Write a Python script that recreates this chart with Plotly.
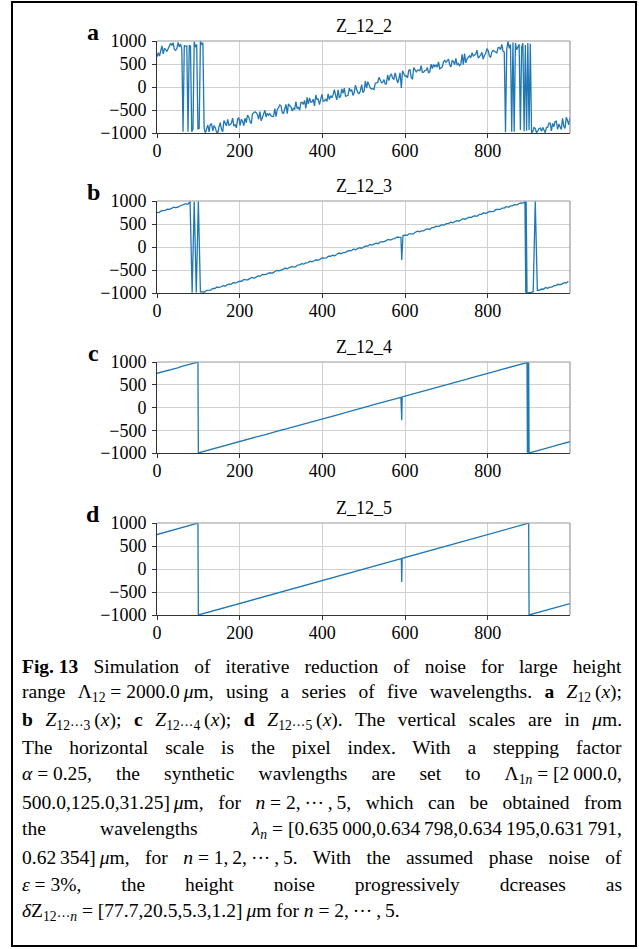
import plotly.graph_objects as go

W, H = 639, 949

# ---- data: wrapped height profiles (µm) versus pixel index ----
pix_a = list(range(0, 1000, 3))
z_a = [659, 745, 674, 786, 897, 722, 834, 816, 771, 830,
       916, 950, 905, 964, 816, 798, 831, 968, 872, 932,
       835, -975, 902, 884, 891, -972, 906, 888, -975, -916,
       988, 866, 925, -912, -904, 999, 929, 960, -900, -996,
       -911, -826, -974, -810, -803, -952, -840, -884, -981, -999,
       -862, -776, -925, -970, -728, -772, -843, -706, -828, -820,
       -787, -676, -850, -816, -887, -698, -664, -838, -701, -746,
       -842, -678, -775, -612, -656, -752, -797, -582, -548, -540,
       -559, -604, -700, -536, -737, -652, -618, -506, -655, -570,
       -614, -580, -625, -644, -636, -472, -647, -484, -450, -390,
       -409, -558, -576, -490, -379, -580, -364, -408, -427, -524,
       -464, -482, -319, -468, -434, -504, -341, -334, -378, -292,
       -467, -226, -374, -236, -333, -326, -266, -414, -173, -270,
       -262, -384, -247, -162, -310, -302, -269, -314, -150, -272,
       -187, -232, -172, -60, -183, -280, -64, -238, -205, -42,
       -138, -26, -201, -194, -186, -22, -93, -60, -182, -122,
       41, -56, -126, -144, -85, 52, -122, -88, 127, -22,
       116, 46, -25, -44, -36, -54, 83, 90, 98, 210,
       139, 94, 102, 162, 65, 72, 262, 140, 251, 284,
       188, 170, 307, 158, 88, 174, 311, -20, 352, 282,
       237, 244, 200, 364, 371, 196, 178, 420, 375, 330,
       364, 372, 353, 464, 316, 324, 357, 364, 424, 302,
       335, 498, 402, 488, 443, 476, 432, 544, 395, 428,
       436, 548, 581, 536, 570, 604, 481, 436, 574, 556,
       485, 622, 474, 508, 463, 496, 712, 486, 727, 526,
       612, 646, 679, 634, 746, 676, 709, 716, 802, 628,
       661, 694, 754, 606, 691, 724, 836, 792, 669, 650,
       762, 796, 777, 758, 740, 852, 859, 814, 926, 778,
       759, -985, 826, 990, 841, 926, -970, 968, -975, 956,
       808, 868, 927, -936, 864, 950, -960, 912, -950, 954,
       -935, 942, -998, -964, -879, -898, -994, -960, -901, -894,
       -964, -878, -949, -994, -882, -874, -789, -782, -956, -792,
       -863, -752, -744, -918, -807, -878, -922, -680, -855, -900,
       -658, -728, -825, -662]

pix_b = sorted(list(range(0, 1000, 5)) + [592, 892, 893])
z_b = [755, 748, 783, 790, 796, 824, 817, 838, 865, 858, 864, 892, 909, 910, 944, 928,
       990, -993, 985, -990, 995, -974,
       -975, -978, -942, -934, -937, -902, -902, -870, -883, -864, -839, -852, -819, -810, -805, -772, -786, -762,
       -741, -744, -705, -716, -714, -682, -663, -680, -648, -630, -634, -598, -602, -596, -564, -558, -565, -532, -511, -518,
       -510, -486, -457, -474, -446, -428, -431, -432, -392, -388, -361, -372, -345, -340, -309, -324, -299, -278, -291, -256,
       -239, -242, -235, -198, -201, -180, -190, -158, -131, -146, -123, -124, -90, -82, -80, -48, -59, -38, -17, -26,
       4, 24, 19, 56, 40, 60, 84, 72, 112, 114, 117, 144, 165, 152, 177, 182, 216, 212, 211, -280, 248,
       255, 254, 287, 286, 285, 320, 344, 332, 351, 352, 385, 392, 382, 422, 421, 452, 442, 464, 486, 476,
       506, 510, 541, 528, 550, 572, 561, 592, 615, 604, 621, 650, 639, 670, 677, 672, 710, 712, 743, 728,
       751, 774, 769, 776, 815, 816, 816, 846, 848, 882, 864, 892, 895, 924, 910, 940, 959, 954,
       978, -992, 990, -990,
       -995, -985, -972, 995,
       -942, -940, -914, -918, -882, -896, -871, -874, -840, -838, -810, -820, -802, -776, -786, -744]

pix_c = [0, 10, 20, 30, 40, 50, 60, 70, 80, 90, 99, 100, 110, 120, 130, 140, 150, 160, 170, 180, 190,
         200, 210, 220, 230, 240, 250, 260, 270, 280, 290, 300, 310, 320, 330, 340, 350, 360, 370, 380, 390,
         400, 410, 420, 430, 440, 450, 460, 470, 480, 490, 500, 510, 520, 530, 540, 550, 560, 570, 580, 590,
         592, 593, 600, 610, 620, 630, 640, 650, 660, 670, 680, 690, 700, 710, 720, 730, 740, 750, 760, 770,
         780, 790, 800, 810, 820, 830, 840, 850, 860, 870, 880, 890, 895, 896, 897, 898, 899, 900,
         910, 920, 930, 940, 950, 960, 970, 980, 990, 999]
z_c = [752, 774, 801, 823, 852, 873, 902, 924, 951, 973, 998, -999, -973, -952, -924, -901, -873, -852, -826, -798, -777,
       -748, -727, -698, -677, -651, -622, -602, -573, -549, -527, -498, -476, -452, -423, -401, -377, -348, -326, -298, -276,
       -252, -223, -201, -176, -148, -127, -99, -77, -48, -26, 2, 23, 51, 74, 98, 127, 148, 176, 199, 224,
       -282, 231, 252, 276, 298, 327, 349, 373, 402, 423, 451, 474, 498, 527, 549, 573, 601, 623, 652, 674,
       698, 727, 748, 776, 799, 826, 848, 877, 898, 926, 949, 973, 990, -996, 994, -993, 997, -998,
       -973, -951, -924, -902, -873, -851, -824, -802, -773, -752]

pix_d = [0, 99, 100, 591, 592, 593, 899, 900, 999]
z_d = [750, 997.5, -1000, 227.5, -280, 232.5, 997.5, -1000, -752.5]

titles = ["Z_12_2", "Z_12_3", "Z_12_4", "Z_12_5"]
letters = ["a", "b", "c", "d"]
x_ticks = [0, 200, 400, 600, 800]
y_ticks = [-1000, -500, 0, 500, 1000]
y_tick_text = ["\u22121000", "\u2212500", "0", "500", "1000"]

DOTS = "\u00b7\u00b7\u00b7"
EQ = "\u2005=\u2005"
caption = [
    "<b>Fig.\u200513</b> Simulation of iterative reduction of noise for large height",
    "range \u039b<sub>12</sub>" + EQ + "2000.0\u2009<i>\u03bc</i>m, using a series of five wavelengths. "
    "<b>a</b> <i>Z</i><sub>12</sub>\u2009(<i>x</i>);",
    "<b>b</b> <i>Z</i><sub>12" + DOTS + "3</sub>\u2009(<i>x</i>); <b>c</b> <i>Z</i><sub>12" + DOTS + "4</sub>\u2009(<i>x</i>); "
    "<b>d</b> <i>Z</i><sub>12" + DOTS + "5</sub>\u2009(<i>x</i>). The vertical scales are in <i>\u03bc</i>m.",
    "The horizontal scale is the pixel index. With a stepping factor",
    "<i>\u03b1</i>" + EQ + "0.25, the synthetic wavlengths are set to "
    "\u039b<sub>1<i>n</i></sub>" + EQ + "[2\u2009000.0,",
    "500.0,125.0,31.25]\u2009<i>\u03bc</i>m, for <i>n</i>" + EQ + "2,\u2009" + DOTS + "\u2009,\u20095, "
    "which can be obtained from",
    "the wavelengths <i>\u03bb<sub>n</sub></i>" + EQ + "[0.635\u2009000,0.634\u2009798,0.634\u2009195,0.631\u2009791,",
    "0.62\u2009354]\u2009<i>\u03bc</i>m, for <i>n</i>" + EQ + "1,\u20092,\u2009" + DOTS + "\u2009,\u20095. "
    "With the assumed phase noise of",
    "<i>\u03b5</i>" + EQ + "3%, the height noise progressively dcreases as",
    "<i>\u03b4</i>Z<sub>12" + DOTS + "<i>n</i></sub>" + EQ + "[77.7,20.5,5.3,1.2]\u2009<i>\u03bc</i>m for "
    "<i>n</i>" + EQ + "2,\u2009" + DOTS + "\u2009,\u20095.",
]

FONT = "Liberation Serif, Times New Roman, serif"
LINE = "#1f77b4"

# pixel geometry of the four panels (top, bottom) and shared left/right
plot_left, plot_right = 157, 570
panel_px = [(41, 133), (201, 293), (362, 453), (523, 615)]

def py(v):
    return 1 - v / H

def px(v):
    return v / W

series = [(pix_a, z_a), (pix_b, z_b), (pix_c, z_c), (pix_d, z_d)]

fig = go.Figure()
layout = dict(
    width=W, height=H,
    margin=dict(l=0, r=0, t=0, b=0, autoexpand=False),
    paper_bgcolor="white", plot_bgcolor="white",
    showlegend=False,
    font=dict(family=FONT, size=18, color="black"),
)
shapes, annotations = [], []

for k, ((xs, ys), (top, bot)) in enumerate(zip(series, panel_px)):
    n = "" if k == 0 else str(k + 1)
    fig.add_trace(go.Scatter(x=xs, y=ys, mode="lines",
                             line=dict(color=LINE, width=1.3),
                             xaxis="x" + n, yaxis="y" + n, hoverinfo="skip"))
    layout["xaxis" + n] = dict(
        domain=[px(plot_left), px(plot_right)], anchor="y" + n,
        range=[0, 999], tickmode="array", tickvals=x_ticks,
        showgrid=True, gridcolor="#d0d0d0", gridwidth=1, zeroline=False,
        showline=True, linecolor="#333333", linewidth=1, mirror=False,
        ticks="outside", ticklen=4, tickcolor="#333333", ticklabelstandoff=-3,
        tickfont=dict(family=FONT, size=18, color="black"),
    )
    layout["yaxis" + n] = dict(
        domain=[py(bot), py(top)], anchor="x" + n,
        range=[-1000, 1000], tickmode="array", tickvals=y_ticks, ticktext=y_tick_text,
        showgrid=True, gridcolor="#d0d0d0", gridwidth=1, zeroline=False,
        showline=True, linecolor="#333333", linewidth=1, mirror=False,
        ticks="outside", ticklen=4, tickcolor="#333333", ticklabelstandoff=2,
        tickfont=dict(family=FONT, size=18, color="black"),
    )
    # lighter top / right spines
    for x0, y0, x1, y1 in [(0, 1, 1, 1), (1, 0, 1, 1)]:
        shapes.append(dict(type="line", xref="x%s domain" % n, yref="y%s domain" % n,
                           x0=x0, y0=y0, x1=x1, y1=y1, layer="above",
                           line=dict(color="#999999", width=1.2)))
    annotations.append(dict(text=titles[k], xref="paper", yref="paper",
                            x=px((plot_left + plot_right) / 2), y=py(top - 15),
                            xanchor="center", yanchor="middle", showarrow=False,
                            font=dict(family=FONT, size=18, color="black")))
    annotations.append(dict(text="<b>%s</b>" % letters[k], xref="paper", yref="paper",
                            x=px(93), y=py(top - 9), xanchor="center", yanchor="middle",
                            showarrow=False, font=dict(family=FONT, size=24, color="black")))

# outer frame
shapes.append(dict(type="rect", xref="paper", yref="paper",
                   x0=px(12), x1=px(636), y0=py(946), y1=py(2),
                   line=dict(color="black", width=2), fillcolor="rgba(0,0,0,0)"))

CAP_L, CAP_R = 22, 622
cap_start = len(annotations)
for i, line in enumerate(caption):
    annotations.append(dict(text=line, xref="paper", yref="paper",
                            x=px(CAP_L - 2), y=py(666 + 27.3 * i),
                            xanchor="left", yanchor="middle", showarrow=False,
                            font=dict(family=FONT, size=19.5, color="black")))
justify_idx = list(range(cap_start, cap_start + len(caption) - 1))

layout["shapes"] = shapes
layout["annotations"] = annotations
fig.update_layout(**layout)

# page without body margin; stretch inter-word spaces so every caption line
# but the last one is justified between CAP_L and CAP_R
post = """
document.documentElement.style.margin = '0';
document.documentElement.style.padding = '0';
document.body.style.margin = '0';
document.body.style.padding = '0';
document.body.style.overflow = 'hidden';
var gd = document.getElementById('{plot_id}');
var box = gd.getBoundingClientRect();
var L = box.left + %d, R = box.left + %d;
%s.forEach(function(i){
  var g = gd.querySelector('g.annotation[data-index="' + i + '"]');
  if (!g) return;
  var t = g.querySelector('text');
  if (!t) return;
  var n = (t.textContent.match(/ /g) || []).length;
  if (!n) return;
  var w = t.getBoundingClientRect().width;
  t.style.wordSpacing = ((R - L - w) / n) + 'px';
  var r = t.getBoundingClientRect();
  t.setAttribute('x', parseFloat(t.getAttribute('x') || 0) + (L - r.left));
});
""" % (CAP_L, CAP_R, str(justify_idx))

fig.write_html("out.html", post_script=post, config={"displayModeBar": False})
